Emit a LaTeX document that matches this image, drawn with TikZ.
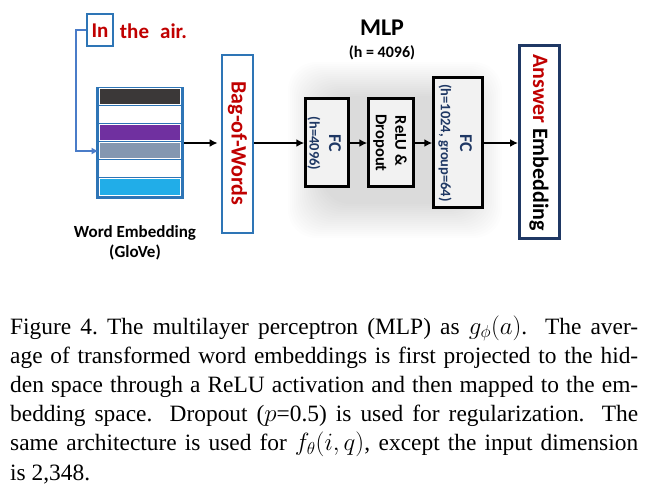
\documentclass[tikz,border=0pt]{standalone}
\usepackage{fontspec}
\setmainfont{Liberation Serif}
\newfontfamily\carl{Carlito}
\usetikzlibrary{arrows.meta}
\definecolor{bordblue}{HTML}{2E75B6}
\definecolor{connblue}{HTML}{4A7CC8}
\definecolor{darkred}{HTML}{C00000}
\definecolor{navy}{HTML}{1F3864}
\definecolor{stripedark}{HTML}{3B3838}
\definecolor{stripepurple}{HTML}{7030A0}
\definecolor{stripegray}{HTML}{8497B0}
\definecolor{stripecyan}{HTML}{21ADE8}
\definecolor{boxfill}{HTML}{F2F2F2}
\tikzset{
  lbl/.style={inner sep=0pt, font=\carl\bfseries},
  rlbl/.style={lbl, rotate=-90},
  mlpbox/.style={draw=black, line width=2.5pt, fill=boxfill, inner sep=0pt},
  stripe/.style={draw=white, line width=0.8pt},
  arr/.style={line width=2pt, -{Latex[length=8pt,width=8pt]}},
  conn/.style={draw=connblue, line width=2pt, -{Latex[length=7pt,width=7pt]}},
}
\begin{document}
\begin{tikzpicture}[x=1pt,y=-1pt]
\useasboundingbox[fill=white] (0,0) rectangle (652,488);
% glow behind MLP
\foreach \i in {0,...,17}
  \fill[black, opacity=0.006, rounded corners=28pt] (322-2*\i,96-2*\i) rectangle (468+2*\i,204+2*\i);
% input words
\node[draw=bordblue, line width=2.5pt, minimum width=26pt, minimum height=32pt, inner sep=0pt] (inbox) at (100,30) {};
\node[lbl, text=darkred, font=\carl\bfseries\fontsize{21}{21}\selectfont] (wIn) at (100,31) {In};
\node[lbl, text=darkred, font=\carl\bfseries\fontsize{21}{21}\selectfont] (wthe) at (134.5,31) {the};
\node[lbl, text=darkred, font=\carl\bfseries\fontsize{21}{21}\selectfont] (wair) at (173.5,31) {air.};
% word embedding
\node[draw=bordblue, fill=bordblue, line width=3pt, minimum width=85pt, minimum height=109pt, inner sep=0pt] (emb) at (140,142.5) {};
\fill[stripe, fill=stripedark]   (99.5,88.5) rectangle (180.5,104.5);
\fill[stripe, fill=white]        (99.5,106.5) rectangle (180.5,122.5);
\fill[stripe, fill=stripepurple] (99.5,124.5) rectangle (180.5,140.5);
\fill[stripe, fill=stripegray]   (99.5,142.5) rectangle (180.5,158.5);
\fill[stripe, fill=white]        (99.5,160.5) rectangle (180.5,176.5);
\fill[stripe, fill=stripecyan]   (99.5,178.5) rectangle (180.5,195.5);
\node[lbl, align=center, font=\carl\bfseries\fontsize{17}{19.5}\selectfont] (embl) at (135,243) {Word Embedding\\(GloVe)};
\coordinate (tgt) at (98.5,151);
\draw[conn] (inbox.west) -- ++(-10,0) |- (tgt);
% bag of words
\node[draw=bordblue, line width=2.8pt, minimum width=31pt, minimum height=178pt, inner sep=0pt] (bow) at (237.5,144) {};
\node[rlbl, text=darkred, font=\carl\bfseries\fontsize{22}{22}\selectfont] (bowt) at (237.5,143.5) {Bag-of-Words};
% MLP title
\node[lbl, font=\carl\bfseries\fontsize{24}{24}\selectfont] (mlpt) at (382,28) {MLP};
\node[lbl, font=\carl\bfseries\fontsize{16}{16}\selectfont] (mlph) at (382,53) {(h = 4096)};
% FC1
\node[mlpbox, minimum width=43pt, minimum height=88pt] (fc1) at (327,142.5) {};
\node[rlbl, text=navy, font=\carl\bfseries\fontsize{18}{18}\selectfont] (fc1a) at (335,143) {FC};
\node[rlbl, text=navy, font=\carl\bfseries\fontsize{14.5}{14.5}\selectfont] (fc1b) at (314,143.5) {(h=4096)};
% ReLU
\node[mlpbox, minimum width=45pt, minimum height=88pt] (relu) at (391,142.5) {};
\node[rlbl, font=\carl\bfseries\fontsize{16.5}{16.5}\selectfont] (relua) at (401,141) {ReLU \&};
\node[rlbl, font=\carl\bfseries\fontsize{16.5}{16.5}\selectfont] (relub) at (380,143) {Dropout};
% FC2
\node[mlpbox, minimum width=49pt, minimum height=130pt] (fc2) at (458,142.5) {};
\node[rlbl, text=navy, font=\carl\bfseries\fontsize{18}{18}\selectfont] (fc2a) at (466,143) {FC};
\node[rlbl, text=navy, font=\carl\bfseries\fontsize{14.5}{14.5}\selectfont] (fc2b) at (445,143) {(h=1024, group=64)};
% Answer embedding
\node[draw=navy, line width=3pt, minimum width=40pt, minimum height=193pt, inner sep=0pt] (ans) at (539.5,142) {};
\node[rlbl, font=\carl\bfseries\fontsize{22}{22}\selectfont] (anst) at (539,142.5) {\textcolor{darkred}{Answer} Embedding};
% arrows
\draw[arr, shorten >=3pt] (emb.east |- 0,143) -- (bow.west |- 0,143);
\draw[arr] (bow.east |- 0,143) -- (fc1.west |- 0,143);
\draw[arr] (fc1.east |- 0,143) -- (relu.west |- 0,143);
\draw[arr] (relu.east |- 0,143) -- (fc2.west |- 0,143);
\draw[arr] (fc2.east |- 0,143) -- (ans.west |- 0,143);
% caption
\node[anchor=base west, inner sep=0pt, text width=628pt, align=justify,
      font=\fontsize{23.4}{29.2}\selectfont] (cap) at (10,334) {\hbadness=10000\hyphenpenalty=10000
Figure 4.\ The multilayer perceptron (MLP) as $g_\phi(a)$. The aver-\linebreak
age of transformed word embeddings is first projected to the hid-\linebreak
den space through a ReLU activation and then mapped to the em-\linebreak
bedding space. Dropout ($p$=0.5) is used for regularization. The\linebreak
same architecture is used for $f_\theta(i,q)$, except the input dimension\linebreak
is 2,348.};
\end{tikzpicture}
\end{document}
